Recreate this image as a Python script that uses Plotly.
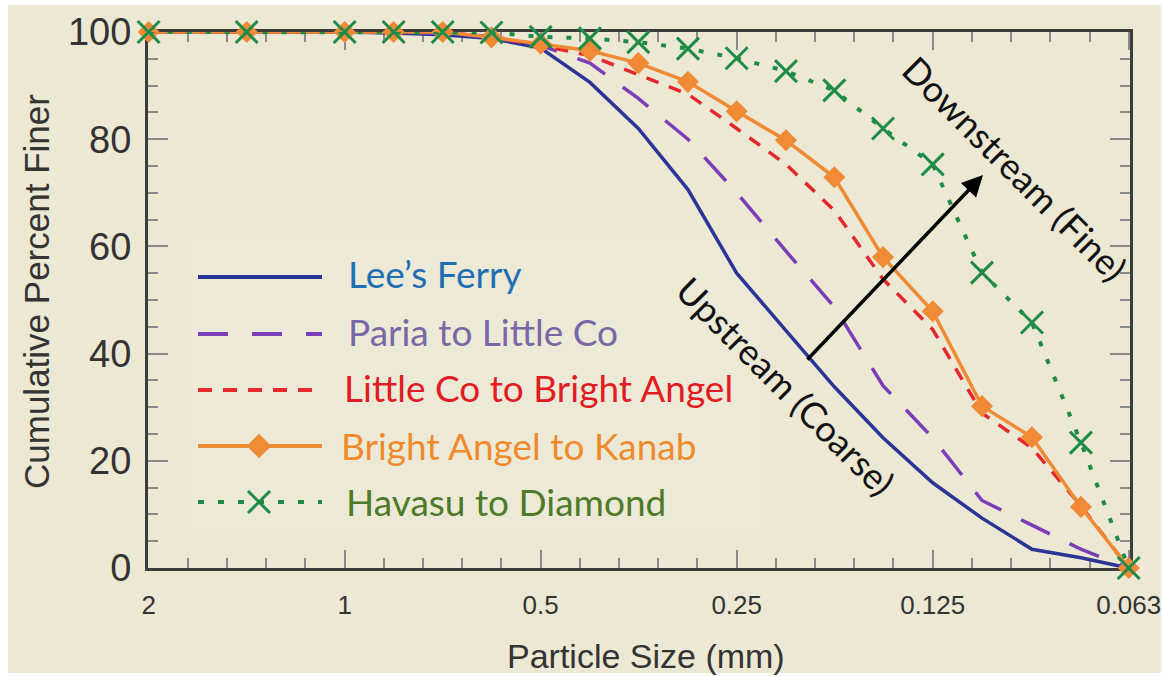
import numpy as np
import plotly.graph_objects as go

# Sieve sizes (mm), quarter-phi steps from 2 mm down to 0.0625 mm
sizes = [2.0, 1.414, 1.0, 0.841, 0.707, 0.595, 0.5, 0.420, 0.354, 0.297,
         0.25, 0.210, 0.177, 0.149, 0.125, 0.105, 0.088, 0.074, 0.0625]

# Cumulative percent finer for each reach
lees_ferry = [100, 100, 100, 99.8, 99.5, 98.8, 97.0, 90.6, 82.0, 70.6,
              55.0, 44.3, 33.8, 24.3, 15.9, 9.3, 3.5, 1.9, 0]
paria_little_co = [100, 100, 100, 100, 99.7, 99.2, 97.5, 94.2, 87.6, 80.0,
                   70.0, 59.1, 48.7, 34.0, 24.3, 12.6, 8.0, 3.5, 0]
little_co_bright_angel = [100, 100, 100, 100, 100, 99.0, 97.5, 95.6, 92.0, 88.4,
                          82.0, 75.3, 66.7, 53.9, 44.5, 28.9, 22.4, 11.6, 0]
bright_angel_kanab = [100, 100, 100, 100, 100, 99.0, 97.8, 96.5, 94.2, 90.7,
                      85.2, 79.8, 72.9, 58.0, 47.9, 30.2, 24.4, 11.4, 0]
havasu_diamond = [100, 100, 100, 100, 100, 99.9, 99.1, 98.8, 98.1, 96.9,
                  95.1, 92.7, 89.1, 82.0, 75.3, 55.1, 45.8, 23.4, 0]

series_names = ["Lee’s Ferry", "Paria to Little Co", "Little Co to Bright Angel",
                "Bright Angel to Kanab", "Havasu to Diamond"]

x_tick_vals = [2, 1, 0.5, 0.25, 0.125, 0.0625]
x_tick_text = ["2", "1", "0.5", "0.25", "0.125", "0.063"]
y_tick_vals = [0, 20, 40, 60, 80, 100]
y_tick_text = ["0", "20", "40", "60", "80", "100"]

BG = "#EDE8D3"
BLUE = "#2B3595"
PURPLE = "#7B3DB8"
RED = "#E5282C"
ORANGE = "#F08A35"
GREEN = "#1E8C46"
AXIS = "#3C3C3C"
TICK = "#8A8A8A"
LABEL_FONT = "Lato, Open Sans, sans-serif"
AXIS_FONT = "Liberation Sans, Arial, sans-serif"

W, H = 1163, 676
L, R, T, B = 148, 1130, 32, 568


def px_to_paper(px, py):
    return (px - L) / (R - L), (B - py) / (B - T)


fig = go.Figure()

styles = [
    dict(line=dict(color=BLUE, width=3.5), mode="lines"),
    dict(line=dict(color=PURPLE, width=3.5, dash="32px,22px"), mode="lines"),
    dict(line=dict(color=RED, width=3.5, dash="13px,11px"), mode="lines"),
    dict(line=dict(color=ORANGE, width=3.5), mode="lines+markers",
         marker=dict(symbol="diamond", size=17, color=ORANGE)),
    dict(line=dict(color=GREEN, width=4, dash="5px,14px"), mode="lines+markers",
         marker=dict(symbol="x-thin", size=22, color=GREEN,
                     line=dict(width=3, color=GREEN))),
]
for name, vals, st in zip(series_names,
                          [lees_ferry, paria_little_co, little_co_bright_angel,
                           bright_angel_kanab, havasu_diamond], styles):
    fig.add_trace(go.Scatter(x=sizes, y=vals, name=name, showlegend=False,
                             cliponaxis=False, hoverinfo="skip", **st))

# Hand-built legend on a pixel-space overlay axis
legend_rows_y = [277, 334, 390, 446, 502]
legend_text_pos = [(346, 273), (346, 331), (342, 387), (339, 445), (344, 501)]
legend_text_colors = ["#1F6EB4", "#7A68A6", "#E31B23", "#F08A2C", "#4F7A28"]
key_dash = ["solid", "30px,24px", "14px,11px", "solid", "6px,14px"]
key_color = [BLUE, PURPLE, RED, ORANGE, GREEN]
for i, yy in enumerate(legend_rows_y):
    fig.add_trace(go.Scatter(x=[198, 322], y=[yy, yy], mode="lines",
                             line=dict(color=key_color[i], width=4, dash=key_dash[i]),
                             xaxis="x2", yaxis="y2", showlegend=False,
                             hoverinfo="skip", cliponaxis=False))
fig.add_trace(go.Scatter(x=[259], y=[legend_rows_y[3]], mode="markers",
                         marker=dict(symbol="diamond", size=19, color=ORANGE),
                         xaxis="x2", yaxis="y2", showlegend=False, hoverinfo="skip",
                         cliponaxis=False))
fig.add_trace(go.Scatter(x=[259], y=[legend_rows_y[4]], mode="markers",
                         marker=dict(symbol="x-thin", size=22, color=GREEN,
                                     line=dict(width=3, color=GREEN)),
                         xaxis="x2", yaxis="y2", showlegend=False, hoverinfo="skip",
                         cliponaxis=False))

annotations = []
for (tx, ty), name, col in zip(legend_text_pos, series_names, legend_text_colors):
    annotations.append(dict(x=tx, y=ty, xref="x2", yref="y2", text=name,
                            showarrow=False, xanchor="left", yanchor="middle",
                            font=dict(family=LABEL_FONT, size=37, color=col)))

# Downstream-fining arrow and labels
annotations.append(dict(x=983, y=175, ax=806, ay=361, xref="x2", yref="y2",
                        axref="x2", ayref="y2", text="", showarrow=True,
                        arrowhead=2, arrowsize=1.2, arrowwidth=3.5, arrowcolor="#000000"))
annotations.append(dict(x=1015, y=168, xref="x2", yref="y2", text="Downstream (Fine)",
                        textangle=45, showarrow=False,
                        font=dict(family=LABEL_FONT, size=36, color="#111111")))
annotations.append(dict(x=786, y=386, xref="x2", yref="y2", text="Upstream (Coarse)",
                        textangle=45, showarrow=False,
                        font=dict(family=LABEL_FONT, size=36, color="#111111")))

# Axis titles (paper coordinates so they sit outside the plot area)
yt_x, yt_y = px_to_paper(36, 292)
annotations.append(dict(x=yt_x, y=yt_y, xref="paper", yref="paper",
                        xanchor="center", yanchor="middle",
                        text="Cumulative Percent Finer", textangle=-90, showarrow=False,
                        font=dict(family=AXIS_FONT, size=35, color="#333333")))
xt_x, xt_y = px_to_paper(646, 656)
annotations.append(dict(x=xt_x, y=xt_y, xref="paper", yref="paper",
                        xanchor="center", yanchor="middle",
                        text="Particle Size (mm)", showarrow=False,
                        font=dict(family=AXIS_FONT, size=34, color="#333333")))

minor_x = [2 * 2 ** (-k / 5) for k in range(26) if k % 5 != 0]
minor_y = [v for v in range(0, 101, 5) if v % 20 != 0]

bx0, by0 = px_to_paper(8, 673)
bx1, by1 = px_to_paper(1161, 5)

fig.update_layout(
    width=W, height=H,
    margin=dict(l=L, r=W - R, t=T, b=H - B, autoexpand=False),
    paper_bgcolor="#FFFFFF",
    plot_bgcolor=BG,
    annotations=annotations,
    shapes=[
        dict(type="rect", xref="paper", yref="paper", layer="below",
             x0=bx0, x1=bx1, y0=by0, y1=by1,
             fillcolor=BG, line=dict(width=0)),
        dict(type="rect", xref="x2", yref="y2", layer="below",
             x0=190, x1=762, y0=240, y1=528,
             fillcolor="#ECEAD7", line=dict(width=0)),
    ],
    xaxis=dict(
        type="log", range=[np.log10(2) + 1e-3, np.log10(0.0625) - 2e-3],
        tickmode="array", tickvals=x_tick_vals, ticktext=x_tick_text,
        ticks="inside", ticklen=18, tickwidth=2, tickcolor=TICK,
        minor=dict(tickmode="array", tickvals=minor_x, ticks="inside",
                   ticklen=10, tickwidth=2, tickcolor=TICK),
        showline=True, linecolor=AXIS, linewidth=3, mirror="ticks",
        showgrid=False, zeroline=False, layer="below traces",
        tickfont=dict(family=AXIS_FONT, size=26, color="#333333"),
        ticklabelstandoff=12, ticklabeloverflow="allow", automargin=False,
    ),
    yaxis=dict(
        range=[0, 100],
        tickmode="array", tickvals=y_tick_vals, ticktext=y_tick_text,
        ticks="inside", ticklen=20, tickwidth=2, tickcolor=TICK,
        minor=dict(tickmode="array", tickvals=minor_y, ticks="inside",
                   ticklen=10, tickwidth=2, tickcolor=TICK),
        showline=True, linecolor=AXIS, linewidth=3, mirror="ticks",
        showgrid=False, zeroline=False, layer="below traces",
        tickfont=dict(family=AXIS_FONT, size=38, color="#333333"),
        ticklabelstandoff=6, automargin=False,
    ),
    xaxis2=dict(overlaying="x", range=[L, R], visible=False, fixedrange=True),
    yaxis2=dict(overlaying="y", range=[B, T], visible=False, fixedrange=True),
)

fig.write_html("out.html")
